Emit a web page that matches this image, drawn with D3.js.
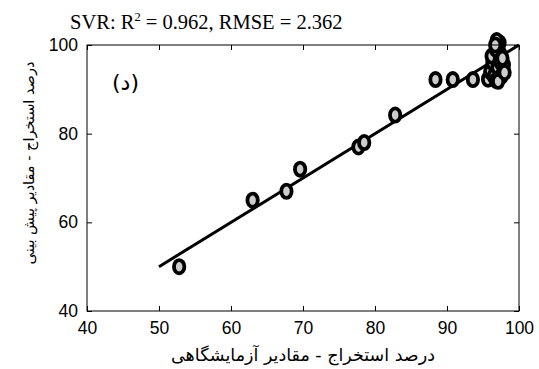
<!DOCTYPE html>
<html>
<head>
<meta charset="utf-8">
<script src="https://cdn.jsdelivr.net/npm/d3@7"></script>
<style>
  body { margin: 0; background: #fff; }
  svg { display: block; }
</style>
</head>
<body>
<div id="chart"></div>
<script>
// measured values (experimental vs predicted)
const measured = [52.8, 63, 67.7, 69.6, 77.7, 78.5, 82.8, 88.4, 90.8, 93.6,
  95.7, 96.0, 96.3, 96.5, 96.8, 97.0, 97.0, 97.1, 97.3, 97.5, 97.8, 96.6, 97.2, 96.9,
  97.4, 97.6, 96.2, 97.9, 97.1, 96.8, 97.3, 97.7, 96.7, 98.0]
const predicted = [50, 65, 67, 72, 77, 78, 84.2, 92.2, 92.2, 92.2,
  92.3, 94, 96, 93, 92, 95, 97.5, 99.5, 100.5, 96, 94, 98, 92.5, 101,
  98, 93, 97.5, 95.5, 91.8, 99, 96.5, 97, 100, 93.8]
const fitLine = [[50, 50], [100, 100]]

const xTicks = [40, 50, 60, 70, 80, 90, 100]
const yTicks = [40, 60, 80, 100]

const titleText = 'SVR: R'
const xLabel = 'درصد استخراج - مقادیر آزمایشگاهی'
const yLabel = 'درصد استخراج - مقادیر پیش بینی'
const panelLabel = '(د)'

const width = 539
const height = 369
const margin = { top: 45, right: 20, bottom: 58, left: 87 }
const plotW = width - margin.left - margin.right
const plotH = height - margin.top - margin.bottom

const svg = d3.select('#chart').append('svg')
  .attr('width', width)
  .attr('height', height)

const xScale = d3.scaleLinear().domain([40, 100]).range([0, plotW])
const yScale = d3.scaleLinear().domain([40, 100]).range([plotH, 0])

const g = svg.append('g').attr('transform', `translate(${margin.left},${margin.top})`)

// box axes with inward ticks, MATLAB style
function styleAxis(sel, showText) {
  sel.select('.domain').remove()
  sel.selectAll('line').attr('stroke', '#000').attr('stroke-width', 1)
  sel.selectAll('text')
    .attr('font-family', 'Liberation Sans, Arial, sans-serif')
    .attr('font-size', 17.5)
    .attr('fill', '#000')
  if (!showText) sel.selectAll('text').remove()
}

g.append('g').attr('transform', `translate(0,${plotH})`)
  .call(d3.axisBottom(xScale).tickValues(xTicks).tickSize(-5).tickPadding(11))
  .call(s => styleAxis(s, true))
g.append('g')
  .call(d3.axisTop(xScale).tickValues(xTicks).tickSize(-5))
  .call(s => styleAxis(s, false))
g.append('g')
  .call(d3.axisLeft(yScale).tickValues(yTicks).tickSize(-5).tickPadding(9))
  .call(s => styleAxis(s, true))
g.append('g').attr('transform', `translate(${plotW},0)`)
  .call(d3.axisRight(yScale).tickValues(yTicks).tickSize(-5))
  .call(s => styleAxis(s, false))

// regression line
g.append('path')
  .datum(fitLine)
  .attr('d', d3.line().x(d => xScale(d[0])).y(d => yScale(d[1])))
  .attr('stroke', '#000')
  .attr('stroke-width', 3)
  .attr('fill', 'none')

// markers
g.selectAll('ellipse.pt')
  .data(measured.map((m, i) => [m, predicted[i]]))
  .enter()
  .append('ellipse')
  .attr('class', 'pt')
  .attr('cx', d => xScale(d[0]))
  .attr('cy', d => yScale(d[1]))
  .attr('rx', 5.2)
  .attr('ry', 6.6)
  .attr('fill', '#cccccc')
  .attr('stroke', '#000')
  .attr('stroke-width', 3.8)

// box
g.append('rect')
  .attr('width', plotW)
  .attr('height', plotH)
  .attr('fill', 'none')
  .attr('stroke', '#000')
  .attr('stroke-width', 1)

// panel label
g.append('text')
  .attr('x', 25)
  .attr('y', 45)
  .attr('font-family', 'DejaVu Sans, sans-serif')
  .attr('font-size', 22)
  .text(panelLabel)

// title
const title = svg.append('text')
  .attr('x', 70)
  .attr('y', 29)
  .attr('font-family', 'Liberation Serif, Times New Roman, serif')
  .attr('font-size', 20.5)
  .attr('fill', '#000')
title.append('tspan').text(titleText)
title.append('tspan').attr('dy', -8).attr('font-size', 12.5).text('2')
title.append('tspan').attr('dy', 8).text(' = 0.962, RMSE = 2.362')

// axis labels
svg.append('text')
  .attr('x', margin.left + plotW / 2)
  .attr('y', 361)
  .attr('text-anchor', 'middle')
  .attr('font-family', 'DejaVu Sans, sans-serif')
  .attr('font-size', 17.5)
  .text(xLabel)

svg.append('text')
  .attr('transform', 'translate(34,163) rotate(-90)')
  .attr('text-anchor', 'middle')
  .attr('font-family', 'DejaVu Sans, sans-serif')
  .attr('font-size', 14.5)
  .text(yLabel)
</script>
</body>
</html>
